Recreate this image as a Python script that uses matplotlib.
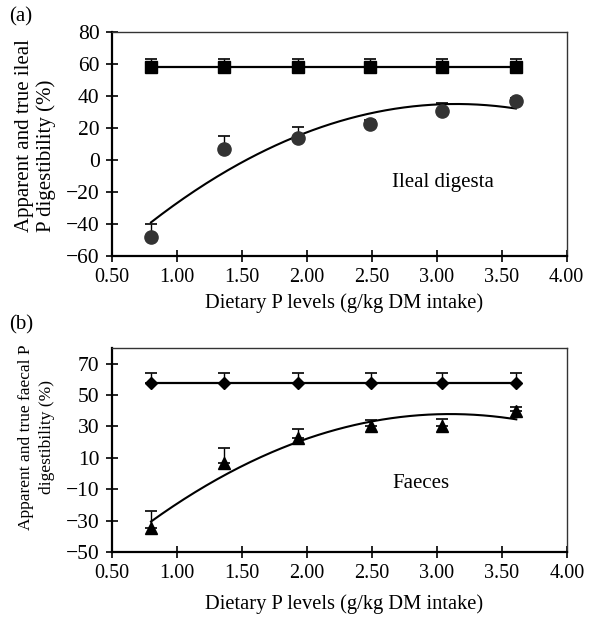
import numpy as np
import matplotlib
matplotlib.use("Agg")
import matplotlib.pyplot as plt

plt.rcParams['font.family'] = ['Liberation Serif', 'DejaVu Serif']

# ---- data ----
p_levels = [0.80, 1.36, 1.93, 2.49, 3.04, 3.61]
x_ticks = [0.50, 1.00, 1.50, 2.00, 2.50, 3.00, 3.50, 4.00]

ileal_true = [58, 58, 58, 58, 58, 58]
ileal_true_err = [5, 5, 5, 5, 5, 5]
ileal_app = [-47.9, 6.9, 13.9, 22.3, 30.6, 36.9]
ileal_app_err = [8, 8, 7, 3, 5, 2]
ileal_fit = [-13.4, 84.42, -97.96]   # quadratic trendline coefficients
ileal_yticks = [-60, -40, -20, 0, 20, 40, 60, 80]

faecal_true = [58, 58, 58, 58, 58, 58]
faecal_true_err = [6, 6, 6, 6, 6, 6]
faecal_app = [-35, 7, 22.6, 30, 30, 39.6]
faecal_app_err = [11, 9, 6, 4, 5, 3]
faecal_fit = [-12.95, 80.29, -86.55]  # quadratic trendline coefficients
faecal_yticks = [-50, -30, -10, 10, 30, 50, 70]

W, H = 589, 618
fig = plt.figure(figsize=(W / 100, H / 100), dpi=100)

def make_ax(left, top, right, bottom):
    return fig.add_axes([left / W, 1 - bottom / H, (right - left) / W, (bottom - top) / H])

ax1 = make_ax(112, 32, 566.5, 256)
ax2 = make_ax(112, 348, 567, 552)

XT_FS = 14.5
YT_FS = 15.5
XL_FS = 14.8
TXT_FS = 15

def style(ax, yticks, ylim, xlabel_y):
    ax.set_xlim(0.5, 4.0)
    ax.set_ylim(*ylim)
    ax.set_xticks(x_ticks)
    ax.set_xticklabels([f"{v:.2f}" for v in x_ticks], fontsize=XT_FS)
    ax.set_yticks(yticks)
    ax.set_yticklabels([f"{v}".replace('-', '\u2212') for v in yticks], fontsize=YT_FS)
    for s in ['left', 'bottom']:
        ax.spines[s].set_linewidth(1.6)
        ax.spines[s].set_color('black')
    for s in ['top', 'right']:
        ax.spines[s].set_linewidth(1.0)
        ax.spines[s].set_color('#333333')
    ax.tick_params(direction='inout', length=8, width=1.2)
    ax.tick_params(axis='x', pad=5)
    ax.tick_params(axis='y', pad=5)
    ax.set_xlabel('Dietary P levels (g/kg DM intake)', fontsize=XL_FS)
    ax.xaxis.set_label_coords((344 - 112) / 454.5, xlabel_y)
    ax.xaxis.label.set_va('center')

def draw(ax, true_v, true_e, true_m, true_ms, app_v, app_e, app_m, app_ms, app_c, fit):
    ax.errorbar(p_levels, true_v, yerr=[[0] * len(true_e), true_e], fmt='-', color='black',
                lw=1.6, marker=true_m, ms=true_ms, elinewidth=1.0, capsize=4, capthick=1.2,
                zorder=3)
    ax.errorbar(p_levels, app_v, yerr=[[0] * len(app_e), app_e], fmt='none', ecolor='black',
                elinewidth=1.0, capsize=4, capthick=1.2, zorder=2)
    ax.plot(p_levels, app_v, linestyle='none', marker=app_m, ms=app_ms, color=app_c, zorder=4)
    xs = np.linspace(p_levels[0], p_levels[-1], 200)
    ax.plot(xs, np.polyval(fit, xs), color='black', lw=1.5, zorder=3)

style(ax1, ileal_yticks, (-60, 80), -(303.5 - 256) / 224)
draw(ax1, ileal_true, ileal_true_err, 's', 8, ileal_app, ileal_app_err, 'o', 9.5, '#333333', ileal_fit)
ax1.text(3.05, -13.75, 'Ileal digesta', fontsize=TXT_FS, ha='center', va='center')
ax1.set_ylabel('Apparent and true ileal\nP digestibility (%)', fontsize=15,
               linespacing=1.12, multialignment='left')
ax1.yaxis.set_label_coords((56 - 112) / 454.5, 0.536)

style(ax2, faecal_yticks, (-50, 80), -(604 - 552) / 204)
draw(ax2, faecal_true, faecal_true_err, 'D', 6, faecal_app, faecal_app_err, '^', 8.5, 'black', faecal_fit)
ax2.text(2.88, -6.6, 'Faeces', fontsize=TXT_FS, ha='center', va='center')
ax2.set_ylabel('Apparent and true faecal P\ndigestibility (%)', fontsize=12.5,
               linespacing=1.4)
ax2.yaxis.set_label_coords((55 - 112) / 455, 0.564)

fig.text(9 / W, 1 - 17 / H, '(a)', fontsize=TXT_FS, ha='left', va='center')
fig.text(9 / W, 1 - 325 / H, '(b)', fontsize=TXT_FS, ha='left', va='center')

fig.savefig('out.png', dpi=100)
